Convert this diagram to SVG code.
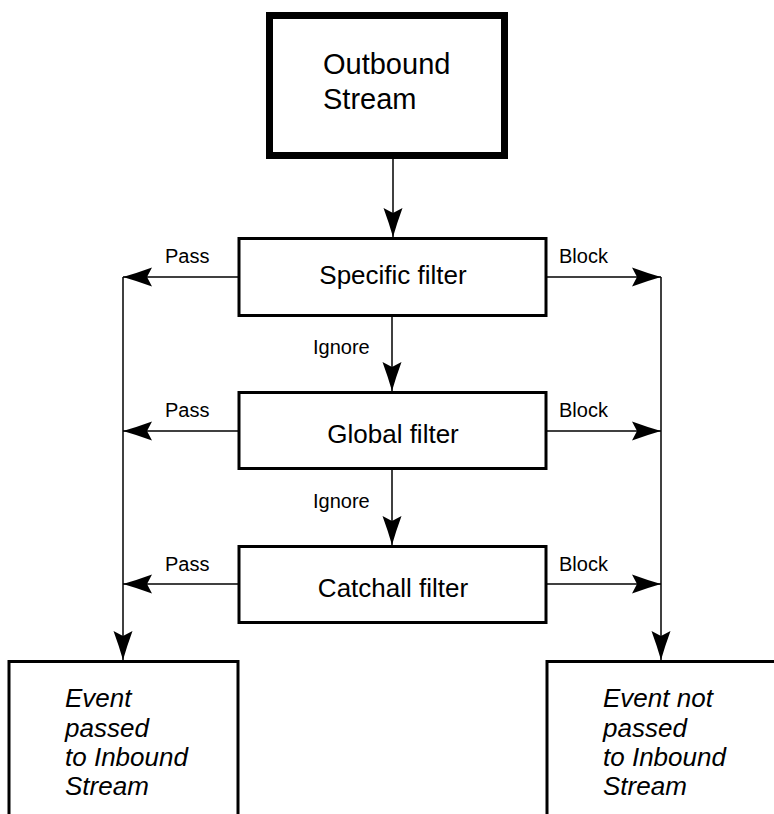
<svg xmlns="http://www.w3.org/2000/svg" width="774" height="814" viewBox="0 0 774 814">
  <style>
    .box { fill: #fff; stroke: #000; stroke-width: 3; }
    .heavy { fill: #fff; stroke: #000; stroke-width: 7; }
    .line { fill: none; stroke: #000; stroke-width: 1.5; }
    .head { font-family: "Liberation Sans", Arial, sans-serif; font-size: 29px; fill: #000; }
    .title { font-family: "Liberation Sans", Arial, sans-serif; font-size: 26px; fill: #000; }
    .label { font-family: "Liberation Sans", Arial, sans-serif; font-size: 20px; fill: #000; }
    .result { font-family: "Liberation Sans", Arial, sans-serif; font-size: 26px; font-style: italic; fill: #000; }
  </style>
  <defs>
    <marker id="arrow" viewBox="-31 -11 32 22" refX="0" refY="0" markerWidth="32" markerHeight="22" markerUnits="userSpaceOnUse" orient="auto">
      <path d="M0,0 Q-14,-4 -29,-9.5 L-24,0 L-29,9.5 Q-14,4 0,0 Z" fill="#000"/>
    </marker>
  </defs>
  <rect width="774" height="814" fill="#fff"/>

  <g id="connectors">
    <line class="line" x1="393" y1="159" x2="393" y2="237" marker-end="url(#arrow)"/>
    <line class="line" x1="392" y1="316" x2="392" y2="391" marker-end="url(#arrow)"/>
    <line class="line" x1="392" y1="469" x2="392" y2="545" marker-end="url(#arrow)"/>
    <line class="line" x1="238" y1="277" x2="123" y2="277" marker-end="url(#arrow)"/>
    <line class="line" x1="238" y1="431" x2="123" y2="431" marker-end="url(#arrow)"/>
    <line class="line" x1="238" y1="584" x2="123" y2="584" marker-end="url(#arrow)"/>
    <line class="line" x1="546" y1="277" x2="661" y2="277" marker-end="url(#arrow)"/>
    <line class="line" x1="546" y1="431" x2="661" y2="431" marker-end="url(#arrow)"/>
    <line class="line" x1="546" y1="584" x2="661" y2="584" marker-end="url(#arrow)"/>
    <line class="line" x1="123" y1="277" x2="123" y2="660" marker-end="url(#arrow)"/>
    <line class="line" x1="661" y1="277" x2="661" y2="660" marker-end="url(#arrow)"/>
    <text class="label" x="165" y="263">Pass</text>
    <text class="label" x="165" y="417">Pass</text>
    <text class="label" x="165" y="571">Pass</text>
    <text class="label" x="559" y="263">Block</text>
    <text class="label" x="559" y="417">Block</text>
    <text class="label" x="559" y="571">Block</text>
    <text class="label" x="313" y="354">Ignore</text>
    <text class="label" x="313" y="508">Ignore</text>
  </g>

  <g id="outbound">
    <rect class="heavy" x="269.5" y="15.5" width="235" height="140"/>
    <text class="head" x="323" y="74">Outbound</text>
    <text class="head" x="323" y="109">Stream</text>
  </g>

  <g id="specific">
    <rect class="box" x="239" y="238.5" width="307" height="77"/>
    <text class="title" x="393" y="284" text-anchor="middle">Specific filter</text>
  </g>

  <g id="global">
    <rect class="box" x="239" y="392.5" width="307" height="76"/>
    <text class="title" x="393" y="443" text-anchor="middle">Global filter</text>
  </g>

  <g id="catchall">
    <rect class="box" x="239" y="546.5" width="307" height="76"/>
    <text class="title" x="393" y="597" text-anchor="middle">Catchall filter</text>
  </g>

  <g id="passed">
    <rect class="box" x="9" y="661.5" width="229" height="170"/>
    <text class="result" x="65" y="707">Event</text>
    <text class="result" x="65" y="737">passed</text>
    <text class="result" x="65" y="766">to Inbound</text>
    <text class="result" x="65" y="795">Stream</text>
  </g>

  <g id="blocked">
    <rect class="box" x="547" y="661.5" width="240" height="170"/>
    <text class="result" x="603" y="707">Event not</text>
    <text class="result" x="603" y="737">passed</text>
    <text class="result" x="603" y="766">to Inbound</text>
    <text class="result" x="603" y="795">Stream</text>
  </g>
</svg>
